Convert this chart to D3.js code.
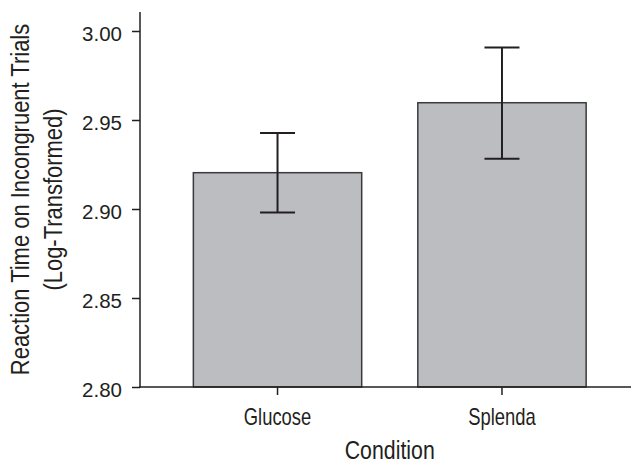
<!DOCTYPE html>
<html>
<head>
<meta charset="utf-8">
<script src="https://cdn.jsdelivr.net/npm/d3@7/dist/d3.min.js"></script>
<style>
  html, body { margin: 0; padding: 0; background: #fff; }
  svg { display: block; }
</style>
</head>
<body>
<svg id="chart" width="632" height="464"></svg>
<script>
const categories = ["Glucose", "Splenda"];
const means = [2.9204, 2.9597];
const errLow = [2.8981, 2.9283];
const errHigh = [2.9427, 2.9908];
const yTicks = [2.80, 2.85, 2.90, 2.95, 3.00];

const svg = d3.select("#chart");
const yTopAxis = 12;
const axisX = 140;

const y = d3.scaleLinear().domain([2.80, 3.00]).range([387, 31]);
const x = d3.scaleBand().domain(categories)
  .range([137.25, 642.25]).paddingInner(0.25).paddingOuter(0.25);

const regular = "'Liberation Sans', Arial, Helvetica, sans-serif";
const ink = "#231f20";

// Bars
svg.append("g").selectAll("rect").data(categories).join("rect")
  .attr("x", d => x(d))
  .attr("y", (d, i) => y(means[i]))
  .attr("width", x.bandwidth())
  .attr("height", (d, i) => y(2.80) - y(means[i]))
  .attr("fill", "#bcbdc1")
  .attr("stroke", "#3a3a3c")
  .attr("stroke-width", 1.5);

// Error bars
const eb = svg.append("g").attr("stroke", ink).attr("stroke-width", 2);
categories.forEach((c, i) => {
  const cx = x(c) + x.bandwidth() / 2;
  eb.append("line").attr("x1", cx).attr("x2", cx)
    .attr("y1", y(errLow[i])).attr("y2", y(errHigh[i]));
  [errLow[i], errHigh[i]].forEach(v => {
    eb.append("line").attr("x1", cx - 17.5).attr("x2", cx + 17.5)
      .attr("y1", y(v)).attr("y2", y(v));
  });
});

// Y axis
const yAxis = svg.append("g").attr("transform", `translate(${axisX},0)`)
  .call(d3.axisLeft(y).tickValues(yTicks).tickFormat(d3.format(".2f"))
    .tickSize(8).tickPadding(10));
yAxis.select(".domain").remove();
yAxis.selectAll(".tick line").attr("stroke", ink).attr("stroke-width", 1.5);
yAxis.selectAll(".tick text").attr("fill", ink)
  .style("font-family", regular).style("font-size", "20.5px").attr("dy", "0.45em");
svg.append("line").attr("x1", axisX).attr("x2", axisX)
  .attr("y1", yTopAxis).attr("y2", y(2.80) + 0.75)
  .attr("stroke", ink).attr("stroke-width", 1.5);

// X axis
const xAxis = svg.append("g").attr("transform", `translate(0,${y(2.80)})`)
  .call(d3.axisBottom(x).tickSize(8).tickPadding(14));
xAxis.select(".domain").remove();
xAxis.selectAll(".tick line").attr("stroke", ink).attr("stroke-width", 1.5);
xAxis.selectAll(".tick text").attr("fill", ink)
  .style("font-family", regular).style("font-size", "23px").attr("dy", "0.71em")
  .attr("transform", "scale(0.80,1)");
svg.append("line").attr("x1", axisX - 0.75).attr("x2", 631)
  .attr("y1", y(2.80)).attr("y2", y(2.80))
  .attr("stroke", ink).attr("stroke-width", 1.5);

// Axis titles
const xMid = (x.range()[0] + x.range()[1]) / 2;
svg.append("text")
  .attr("transform", `translate(${xMid},458.5) scale(0.82,1)`)
  .attr("text-anchor", "middle").attr("fill", ink)
  .style("font-family", regular).style("font-size", "26px")
  .text("Condition");

const cy = (y(2.80) + yTopAxis) / 2;
const yTitleLines = ["Reaction Time on Incongruent Trials", "(Log-Transformed)"];
const yTitleBaselines = [29, 62];
yTitleLines.forEach((t, i) => {
  svg.append("text")
    .attr("transform", `translate(${yTitleBaselines[i]},${cy}) rotate(-90) scale(0.845,1)`)
    .attr("text-anchor", "middle").attr("fill", ink)
    .style("font-family", regular).style("font-size", "26px")
    .text(t);
});
</script>
</body>
</html>
